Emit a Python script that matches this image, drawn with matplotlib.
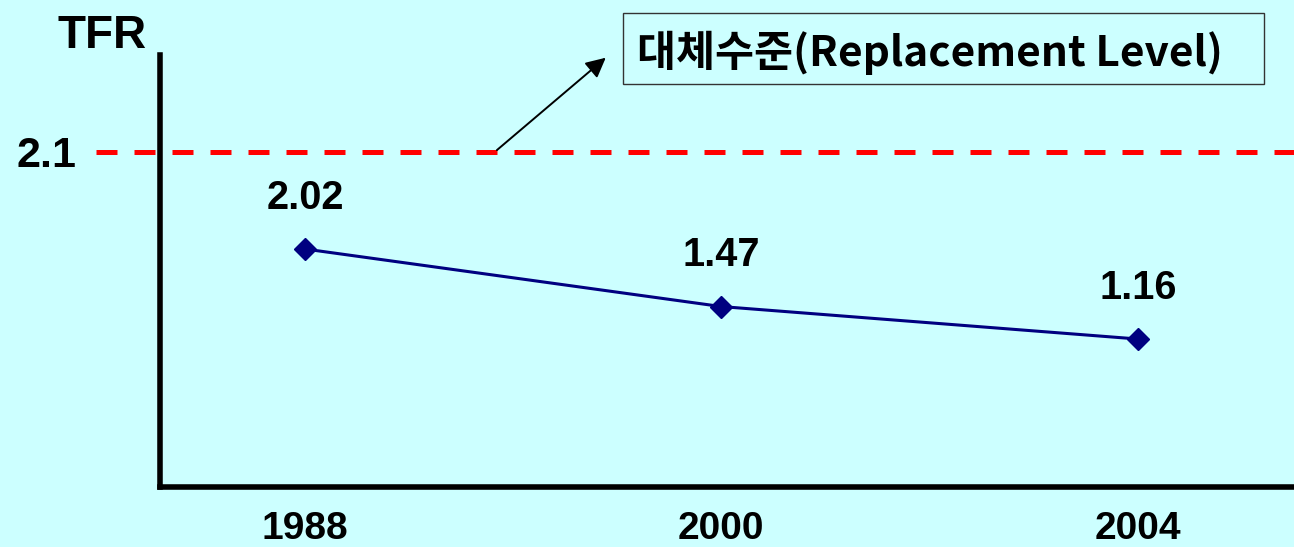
import matplotlib
matplotlib.use('Agg')
import matplotlib.pyplot as plt
import matplotlib.patches as mpatches
from matplotlib import font_manager
import numpy as np

years = ['1988', '2000', '2004']
tfr = [2.02, 1.47, 1.16]
replacement = 2.1
box_label = '대체수준(Replacement Level)'

bg = '#CCFFFF'
navy = '#000080'

installed = {f.name for f in font_manager.fontManager.ttflist}
narrow = 'Liberation Sans Narrow' if 'Liberation Sans Narrow' in installed else 'Liberation Sans'

plt.rcParams['font.family'] = ['Liberation Sans', 'DejaVu Sans']
plt.rcParams['font.weight'] = 'bold'


# the replacement level sits off scale in the original, so stretch the gap above the top point
def fwd(y):
    y = np.asarray(y, dtype=float)
    return np.where(y <= 2.02, y, np.where(y <= 2.1, 2.02 + (y - 2.02) * 11.6, 2.948 + (y - 2.1)))


def inv(v):
    v = np.asarray(v, dtype=float)
    return np.where(v <= 2.02, v, np.where(v <= 2.948, 2.02 + (v - 2.02) / 11.6, 2.1 + (v - 2.948)))


fig = plt.figure(figsize=(12.94, 5.47), dpi=100, facecolor=bg)
ax = fig.add_axes([0.1233, 0.1097, 0.8767, 0.7898], facecolor=bg)
ax.set_yscale('function', functions=(fwd, inv))

x = np.arange(len(years))
ax.plot(x, tfr, color=navy, lw=2.2, marker='D', ms=11, mew=1, mfc=navy, mec=navy, zorder=3)

for xi, v in zip(x, tfr):
    ax.annotate('{:.2f}'.format(v), (xi, v), xytext=(0, 37), textcoords='offset points',
                ha='center', va='center', fontsize=28.5, fontweight='bold')

ax.axhline(replacement, xmin=-0.056, xmax=1, color='red', lw=3.6,
           linestyle=(0, (4.2, 3.4)), clip_on=False, zorder=2)

ax.set_xlim(-0.349, 2.375)
ax.set_ylim(-0.254, 3.026)

ax.set_xticks(x)
ax.set_xticklabels(years, fontsize=28, fontweight='bold')
ax.set_yticks([replacement])
ax.set_yticklabels(['2.1'], fontsize=31, fontweight='bold')
ax.tick_params(axis='x', length=0, pad=17)
ax.tick_params(axis='y', length=0, pad=60)
ax.yaxis.set_minor_locator(plt.NullLocator())

for side in ['top', 'right']:
    ax.spines[side].set_visible(False)
for side in ['left', 'bottom']:
    ax.spines[side].set_linewidth(4)
    ax.spines[side].set_capstyle('projecting')

ax.text(-0.0507, 1.045, 'TFR', transform=ax.transAxes, ha='center', va='center',
        fontsize=33, fontweight='bold', family=narrow)

# pointer from the dashed line up to the label box
ax.annotate('', xy=(0.7275, 3.017), xytext=(0.456, replacement),
            arrowprops=dict(arrowstyle='-|>', color='black', lw=1.4, mutation_scale=30),
            annotation_clip=False)

box = mpatches.Rectangle((0.4815, 0.8464), 0.4954, 0.1298, transform=fig.transFigure,
                         facecolor=bg, edgecolor='#333333', lw=1.0)
fig.patches.append(box)
fig.text(0.7187, 0.903, box_label, ha='center', va='center', fontsize=30.5, fontweight='bold',
         family=['Noto Sans CJK KR', 'DejaVu Sans'])

plt.savefig('out.png', dpi=100, facecolor=bg)
